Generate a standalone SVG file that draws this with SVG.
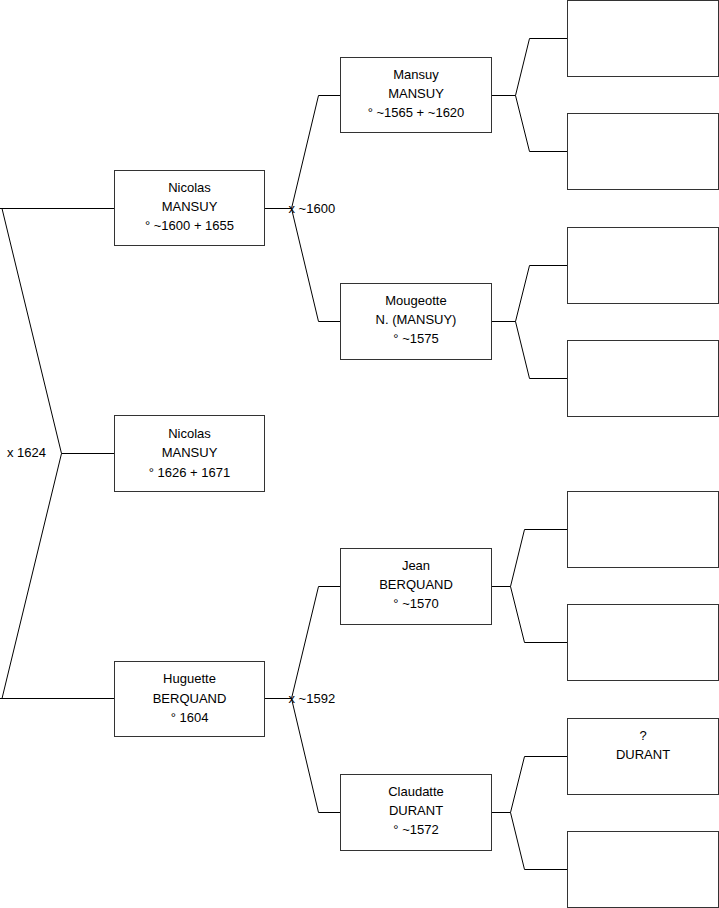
<svg xmlns="http://www.w3.org/2000/svg" width="719" height="908" viewBox="0 0 719 908">
<style>
.box{fill:#fff;stroke:#333;stroke-width:1}
.ln{fill:none;stroke:#000;stroke-width:1}
text{font-family:"Liberation Sans",Arial,sans-serif;font-size:13px;fill:#000}
.c{text-anchor:middle}
</style>
<rect width="719" height="908" fill="#fff"/>
<g id="connectors">
<polyline class="ln" points="0,208.5 114,208.5"/>
<polyline class="ln" points="2,208.5 61.5,453.5 114,453.5"/>
<polyline class="ln" points="0,698.5 114,698.5"/>
<polyline class="ln" points="2,698.5 61.5,453.5"/>
<polyline class="ln" points="265,208.5 291.5,208.5"/>
<polyline class="ln" points="340,95.5 318.5,95.5 291.5,208.5 318.5,321.5 340,321.5"/>
<polyline class="ln" points="265,698.5 291.5,698.5"/>
<polyline class="ln" points="340,586.5 318.5,586.5 291.5,698.5 318.5,812.5 340,812.5"/>
<polyline class="ln" points="491,95.5 515.5,95.5"/>
<polyline class="ln" points="567,38.5 529.5,38.5 515.5,95.5 529.5,151.5 567,151.5"/>
<polyline class="ln" points="491,321.5 515.5,321.5"/>
<polyline class="ln" points="567,265.5 529.5,265.5 515.5,321.5 529.5,378.5 567,378.5"/>
<polyline class="ln" points="491,586.5 510.5,586.5"/>
<polyline class="ln" points="567,529.5 524.5,529.5 510.5,586.5 524.5,642.5 567,642.5"/>
<polyline class="ln" points="491,812.5 510.5,812.5"/>
<polyline class="ln" points="567,756.5 524.5,756.5 510.5,812.5 524.5,869.5 567,869.5"/>
<text x="7" y="457">x 1624</text>
<text x="288.5" y="212.5">x ~1600</text>
<text x="288.5" y="702.5">x ~1592</text>
</g>
<g id="n-nicolas-father">
<rect class="box" x="114.5" y="170.5" width="150" height="75"/>
<text class="c" x="189.5" y="191.7">Nicolas</text>
<text class="c" x="189.5" y="211">MANSUY</text>
<text class="c" x="189.5" y="230.3">° ~1600 + 1655</text>
</g>
<g id="n-nicolas-child">
<rect class="box" x="114.5" y="415.5" width="150" height="76"/>
<text class="c" x="189.5" y="437.5">Nicolas</text>
<text class="c" x="189.5" y="457">MANSUY</text>
<text class="c" x="189.5" y="476.5">° 1626 + 1671</text>
</g>
<g id="n-huguette">
<rect class="box" x="114.5" y="661.5" width="150" height="75"/>
<text class="c" x="189.5" y="683">Huguette</text>
<text class="c" x="189.5" y="702.5">BERQUAND</text>
<text class="c" x="189.5" y="721.7">° 1604</text>
</g>
<g id="n-mansuy">
<rect class="box" x="340.5" y="57.5" width="151" height="75"/>
<text class="c" x="416" y="78.7">Mansuy</text>
<text class="c" x="416" y="98">MANSUY</text>
<text class="c" x="416" y="117.3">° ~1565 + ~1620</text>
</g>
<g id="n-mougeotte">
<rect class="box" x="340.5" y="283.5" width="151" height="76"/>
<text class="c" x="416" y="304.7">Mougeotte</text>
<text class="c" x="416" y="324">N. (MANSUY)</text>
<text class="c" x="416" y="343.3">° ~1575</text>
</g>
<g id="n-jean">
<rect class="box" x="340.5" y="548.5" width="151" height="76"/>
<text class="c" x="416" y="569.7">Jean</text>
<text class="c" x="416" y="589">BERQUAND</text>
<text class="c" x="416" y="608.3">° ~1570</text>
</g>
<g id="n-claudatte">
<rect class="box" x="340.5" y="774.5" width="151" height="76"/>
<text class="c" x="416" y="795.7">Claudatte</text>
<text class="c" x="416" y="815">DURANT</text>
<text class="c" x="416" y="834.3">° ~1572</text>
</g>
<g id="n-g3-1"><rect class="box" x="567.5" y="0.5" width="151" height="76"/></g>
<g id="n-g3-2"><rect class="box" x="567.5" y="113.5" width="151" height="76"/></g>
<g id="n-g3-3"><rect class="box" x="567.5" y="227.5" width="151" height="76"/></g>
<g id="n-g3-4"><rect class="box" x="567.5" y="340.5" width="151" height="76"/></g>
<g id="n-g3-5"><rect class="box" x="567.5" y="491.5" width="151" height="76"/></g>
<g id="n-g3-6"><rect class="box" x="567.5" y="604.5" width="151" height="76"/></g>
<g id="n-g3-7">
<rect class="box" x="567.5" y="718.5" width="151" height="76"/>
<text class="c" x="643" y="739.7">?</text>
<text class="c" x="643" y="759">DURANT</text>
</g>
<g id="n-g3-8"><rect class="box" x="567.5" y="831.5" width="151" height="76"/></g>
</svg>
